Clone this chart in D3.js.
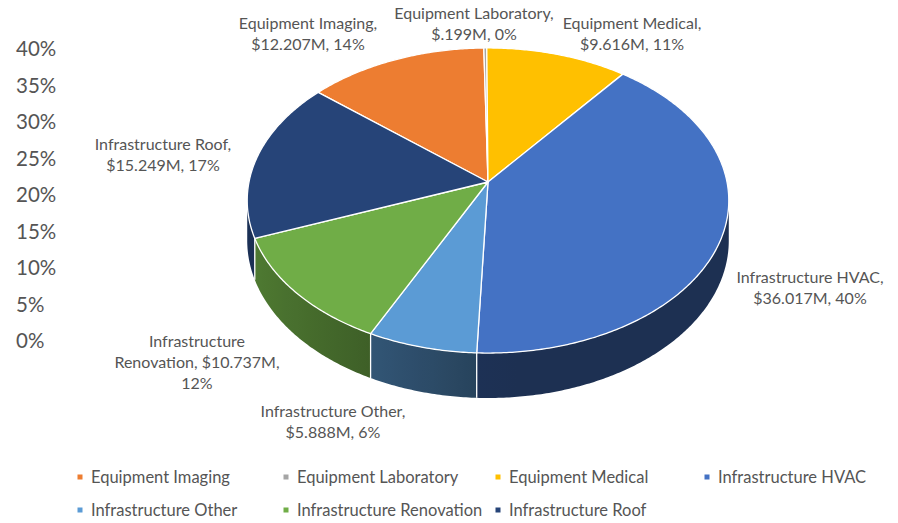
<!DOCTYPE html>
<html>
<head>
<meta charset="utf-8">
<script src="https://cdn.jsdelivr.net/npm/d3@7"></script>
<style>
  html, body { margin: 0; padding: 0; background: #ffffff; }
  svg { display: block; font-family: Lato, "Open Sans", sans-serif; }
</style>
</head>
<body>
<svg id="chart" width="898" height="523"></svg>
<script>
// Data
var categories = ["Equipment Imaging", "Equipment Laboratory", "Equipment Medical",
                  "Infrastructure HVAC", "Infrastructure Other", "Infrastructure Renovation",
                  "Infrastructure Roof"];
var amounts = [12.207, 0.199, 9.616, 36.017, 5.888, 10.737, 15.249]; // $M
var amountLabels = ["$12.207M", "$.199M", "$9.616M", "$36.017M", "$5.888M", "$10.737M", "$15.249M"];
var percentLabels = ["14%", "0%", "11%", "40%", "6%", "12%", "17%"];
var axisTicks = [0, 0.05, 0.10, 0.15, 0.20, 0.25, 0.30, 0.35, 0.40];

// Styles
var COLORS = ["#ED7D31", "#A5A5A5", "#FFC000", "#4472C4", "#5B9BD5", "#70AD47", "#264478"];
var TEXT_COLOR = "#555555";

// 3D pie geometry (perspective tilt)
var CX = 488, CY = 182;     // apex of the pie on screen
var KX = 239, KY = 150.3;   // radius scale
var PERSP = -0.1213;        // perspective factor
var DEPTH = 39.5;           // thickness
var FIRST_ANGLE = -50 * Math.PI / 180;

// label text lines, built from the data, and where Excel put them
var labelLines = [
    [categories[0] + ",", amountLabels[0] + ", " + percentLabels[0]],
    [categories[1] + ",", amountLabels[1] + ", " + percentLabels[1]],
    [categories[2] + ",", amountLabels[2] + ", " + percentLabels[2]],
    [categories[3] + ",", amountLabels[3] + ", " + percentLabels[3]],
    [categories[4] + ",", amountLabels[4] + ", " + percentLabels[4]],
    ["Infrastructure", "Renovation, " + amountLabels[5] + ",", percentLabels[5]],
    [categories[6] + ",", amountLabels[6] + ", " + percentLabels[6]]
];
var labelPos = [[308, 23], [474, 13], [632, 23], [810, 277], [333, 411], [197, 341], [163, 144]];

var svg = d3.select("#chart");
var defs = svg.append("defs");

function w(t) { return 1 + PERSP * (-Math.cos(t)); }
function proj(t) {
    var u = Math.sin(t), v = -Math.cos(t), ww = 1 + PERSP * v;
    return [CX + KX * u / ww, CY + KY * v / ww];
}
function projBottom(t) {
    var p = proj(t);
    return [p[0], p[1] + DEPTH / w(t)];
}
function arcPoints(a0, a1, f) {
    var n = Math.max(2, Math.ceil(Math.abs(a1 - a0) / 0.01));
    var pts = [];
    for (var i = 0; i <= n; i++) pts.push(f(a0 + (a1 - a0) * i / n));
    return pts;
}

var pie = d3.pie().sort(null).value(function(d) { return d; })
    .startAngle(FIRST_ANGLE).endAngle(FIRST_ANGLE + 2 * Math.PI);
var arcs = pie(amounts);

// left axis (percent scale)
var y = d3.scaleLinear().domain([0, 0.4]).range([341, 49]);
var axis = d3.axisRight(y).tickValues(axisTicks).tickSize(0).tickFormat(d3.format(".0%"));
var axisG = svg.append("g").attr("transform", "translate(13,0)").call(axis);
axisG.select(".domain").remove();
axisG.selectAll("text").attr("font-family", "Lato, sans-serif")
    .attr("font-size", 20.5).attr("fill", TEXT_COLOR);

// visible side range: between rightmost and leftmost points of the rim
var tRight = Math.acos(PERSP);
var tLeft = 2 * Math.PI - tRight;

function shadeFactor(t) {
    return 0.42 + 0.3 * Math.max(0, -Math.sin(t));
}

var sides = svg.append("g");
arcs.forEach(function(a, i) {
    var a0 = Math.max(a.startAngle, tRight), a1 = Math.min(a.endAngle, tLeft);
    if (a1 <= a0) return;
    var top = arcPoints(a0, a1, proj);
    var bot = arcPoints(a0, a1, projBottom).reverse();
    var xs = top.map(function(p) { return p[0]; });
    var xmin = d3.min(xs), xmax = d3.max(xs);
    var grad = defs.append("linearGradient").attr("id", "side" + i)
        .attr("x1", 0).attr("x2", 1).attr("y1", 0).attr("y2", 0);
    var base = d3.rgb(COLORS[i]);
    var stops = [];
    for (var k = 0; k <= 10; k++) {
        var t = a0 + (a1 - a0) * k / 10;
        var f = shadeFactor(t);
        stops.push({ off: (xmax - xmin) > 0 ? (proj(t)[0] - xmin) / (xmax - xmin) : 0,
                     col: d3.rgb(base.r * f, base.g * f, base.b * f).toString() });
    }
    stops.sort(function(p, q) { return p.off - q.off; });
    stops.forEach(function(s) {
        grad.append("stop").attr("offset", s.off).attr("stop-color", s.col);
    });
    sides.append("path")
        .attr("d", "M" + top.concat(bot).map(function(p) { return p.join(","); }).join("L") + "Z")
        .attr("fill", "url(#side" + i + ")");
});
// white separators on the side wall
arcs.forEach(function(a) {
    var t = a.startAngle < 0 ? a.startAngle + 2 * Math.PI : a.startAngle;
    if (t > tRight && t < tLeft) {
        var p = proj(t), q = projBottom(t);
        sides.append("line").attr("x1", p[0]).attr("y1", p[1]).attr("x2", q[0]).attr("y2", q[1])
            .attr("stroke", "#ffffff").attr("stroke-width", 1.3);
    }
});

// top faces
svg.append("g").selectAll("path").data(arcs).enter().append("path")
    .attr("d", function(a) {
        var pts = [[CX, CY]].concat(arcPoints(a.startAngle, a.endAngle, proj));
        return "M" + pts.map(function(p) { return p.join(","); }).join("L") + "Z";
    })
    .attr("fill", function(a, i) { return COLORS[i]; })
    .attr("stroke", "#ffffff").attr("stroke-width", 1.3).attr("stroke-linejoin", "round");

// data labels
var labels = svg.append("g").attr("font-size", 16).attr("fill", TEXT_COLOR).attr("text-anchor", "middle");
labelLines.forEach(function(lines, i) {
    var t = labels.append("text").attr("x", labelPos[i][0]).attr("y", labelPos[i][1]);
    lines.forEach(function(s, j) {
        t.append("tspan").attr("x", labelPos[i][0]).attr("dy", j === 0 ? "0.35em" : 21).text(s);
    });
});

// legend
var legendX = [80, 286, 498, 707];
var legendY = [477, 510];
var legend = svg.append("g").selectAll("g").data(categories).enter().append("g")
    .attr("transform", function(d, i) {
        return "translate(" + legendX[i % 4] + "," + legendY[Math.floor(i / 4)] + ")";
    });
legend.append("rect").attr("x", -2.5).attr("y", -2.5).attr("width", 5).attr("height", 5)
    .attr("fill", function(d, i) { return COLORS[i]; });
legend.append("text").attr("x", 11).attr("dy", "0.35em")
    .attr("font-size", 16.5).attr("fill", TEXT_COLOR).text(function(d) { return d; });
</script>
</body>
</html>
